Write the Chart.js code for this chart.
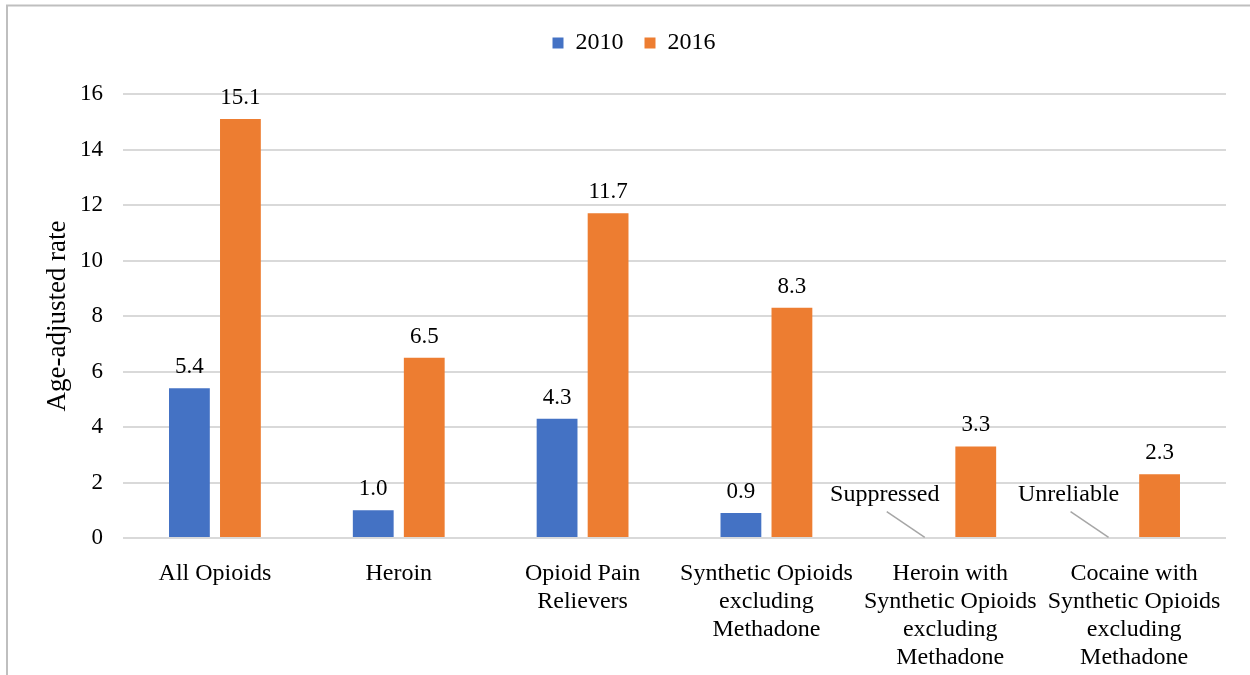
<!DOCTYPE html>
<html>
<head>
<meta charset="utf-8">
<script src="https://cdn.jsdelivr.net/npm/chart.js@4.4.0/dist/chart.umd.min.js"></script>
<style>
    html, body { margin: 0; padding: 0; background: #fff; }
    #wrap { position: relative; width: 1250px; height: 675px; }
</style>
</head>
<body>
<div id="wrap"><canvas id="chart" width="1250" height="675"></canvas></div>
<script>
// Chart data
const categories = [
    ['All Opioids'],
    ['Heroin'],
    ['Opioid Pain', 'Relievers'],
    ['Synthetic Opioids', 'excluding', 'Methadone'],
    ['Heroin with', 'Synthetic Opioids', 'excluding', 'Methadone'],
    ['Cocaine with', 'Synthetic Opioids', 'excluding', 'Methadone']
];
const rates2010 = [5.4, 1.0, 4.3, 0.9, null, null];
const rates2016 = [15.1, 6.5, 11.7, 8.3, 3.3, 2.3];
const notes2010 = [null, null, null, null, 'Suppressed', 'Unreliable'];
const yTicks = [0, 2, 4, 6, 8, 10, 12, 14, 16];

const FONT = "'Liberation Serif', 'Times New Roman', serif";
const FONT_SIZE = 24;
const colors = {
    blue: '#4472C4',
    orange: '#ED7D31',
    grid: '#D9D9D9',
    frame: '#BFBFBF',
    text: '#000000',
    leader: '#A6A6A6'
};

// Frame, value labels and the "Suppressed"/"Unreliable" notes
const decorPlugin = {
    id: 'decor',
    beforeDraw(chart) {
        const ctx = chart.ctx;
        ctx.save();
        ctx.fillStyle = '#fff';
        ctx.fillRect(0, 0, chart.width, chart.height);
        ctx.strokeStyle = colors.frame;
        ctx.lineWidth = 2;
        ctx.beginPath();
        ctx.moveTo(7, chart.height);
        ctx.lineTo(7, 5.5);
        ctx.lineTo(chart.width, 5.5);
        ctx.stroke();
        ctx.restore();
    },
    afterDatasetsDraw(chart) {
        const ctx = chart.ctx;
        const y = chart.scales.y;
        ctx.save();
        ctx.font = '23px ' + FONT;
        ctx.fillStyle = colors.text;
        ctx.textAlign = 'center';
        ctx.textBaseline = 'middle';
        chart.data.datasets.forEach((ds, di) => {
            const meta = chart.getDatasetMeta(di);
            meta.data.forEach((bar, i) => {
                const v = ds.data[i];
                if (v === null || v === undefined) return;
                ctx.fillText(v.toFixed(1), bar.x, bar.y - 21);
            });
        });

        ctx.font = FONT_SIZE + 'px ' + FONT;
        const meta0 = chart.getDatasetMeta(0);
        const meta1 = chart.getDatasetMeta(1);
        notes2010.forEach((note, i) => {
            if (!note) return;
            const slot = 2 * chart.scales.x.getPixelForValue(i) - meta1.data[i].x;
            const x0 = isFinite(meta0.data[i].x) ? meta0.data[i].x : slot;
            ctx.strokeStyle = colors.leader;
            ctx.lineWidth = 1.5;
            ctx.beginPath();
            ctx.moveTo(x0 - 38, y.getPixelForValue(0.95));
            ctx.lineTo(x0, y.getPixelForValue(0.02));
            ctx.stroke();
            ctx.fillText(note, x0 - 40, y.getPixelForValue(1.55));
        });
        ctx.restore();
    }
};

new Chart(document.getElementById('chart'), {
    type: 'bar',
    data: {
        labels: categories,
        datasets: [
            { label: '2010', data: rates2010, backgroundColor: colors.blue },
            { label: '2016', data: rates2016, backgroundColor: colors.orange }
        ]
    },
    options: {
        responsive: false,
        animation: false,
        devicePixelRatio: 1,
        categoryPercentage: 0.555,
        barPercentage: 0.8,
        layout: { padding: { left: 42, right: 24, top: 10, bottom: 0 } },
        plugins: {
            legend: {
                position: 'top',
                labels: {
                    color: colors.text,
                    font: { family: FONT, size: FONT_SIZE },
                    boxWidth: 11,
                    boxHeight: 11,
                    padding: 21
                }
            },
            // empty spacer between legend and plot
            subtitle: {
                display: true,
                text: ' ',
                position: 'top',
                weight: 500,
                font: { size: 1, lineHeight: 1 },
                padding: { top: 0, bottom: 28 }
            },
            tooltip: { enabled: false }
        },
        scales: {
            x: {
                grid: { display: false },
                border: { display: false },
                ticks: {
                    color: colors.text,
                    font: { family: FONT, size: FONT_SIZE, lineHeight: 1.167 },
                    padding: 14,
                    maxRotation: 0,
                    autoSkip: false
                },
                afterFit(scale) { scale.height = 137; }
            },
            y: {
                min: 0,
                max: 16,
                afterBuildTicks(scale) { scale.ticks = yTicks.map(v => ({ value: v })); },
                grid: { color: colors.grid, lineWidth: 2, drawTicks: false },
                border: { display: false },
                ticks: {
                    color: colors.text,
                    font: { family: FONT, size: 23 },
                    padding: 20
                },
                title: {
                    display: true,
                    text: 'Age-adjusted rate',
                    color: colors.text,
                    font: { family: FONT, size: 27 },
                    padding: { top: 0, bottom: 0 }
                },
                afterFit(scale) { scale.width = 81; }
            }
        }
    },
    plugins: [decorPlugin]
});
</script>
</body>
</html>
